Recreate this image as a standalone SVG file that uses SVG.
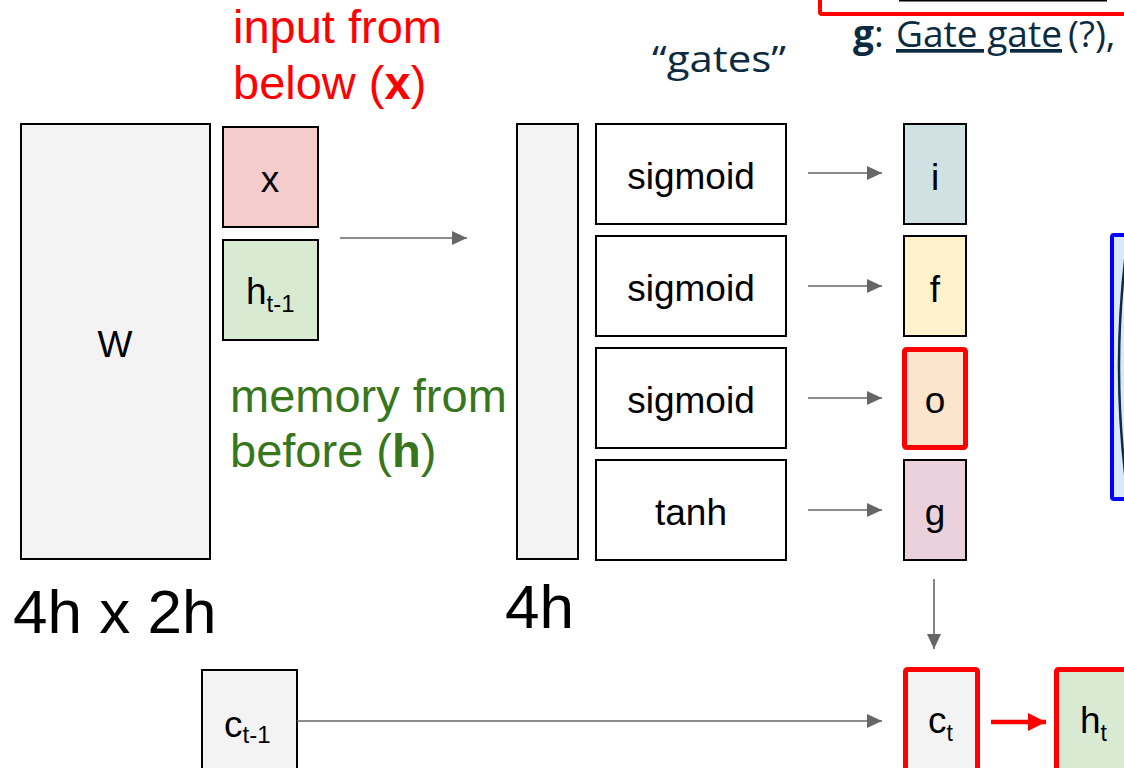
<svg xmlns="http://www.w3.org/2000/svg" width="1124" height="768" viewBox="0 0 1124 768">
<style>
.box{stroke:#000;stroke-width:2}
.hl{stroke:#ff0000;stroke-width:5}
.lbl{font-family:"Liberation Sans",Arial,sans-serif;font-size:37px;fill:#000}
.big{font-family:"Liberation Sans",Arial,sans-serif;font-size:62px;fill:#000}
.note{font-family:"Liberation Sans",Arial,sans-serif;font-size:47px}
.cal{font-family:"Open Sans","Noto Sans",sans-serif;fill:#0d2b40}
.con{stroke:#666;stroke-width:1.6;fill:none}
</style>
<defs>
<marker id="ah" markerUnits="userSpaceOnUse" markerWidth="15" markerHeight="14" refX="15" refY="7" orient="auto">
<path d="M0,0 L15,7 L0,14 z" fill="#666"/>
</marker>
<marker id="ahr" markerUnits="userSpaceOnUse" markerWidth="18" markerHeight="18" refX="18" refY="9" orient="auto">
<path d="M0,0 L18,9 L0,18 z" fill="#ff0000"/>
</marker>
</defs>
<rect width="1124" height="768" fill="#fff"/>

<!-- top cut-off elements -->
<g id="topbox">
<rect x="820" y="-20" width="330" height="34" fill="#fff" stroke="#ff0000" stroke-width="4" rx="2"/>
<rect x="899" y="-1" width="208" height="2.5" fill="#000"/>
</g>
<g id="gate-text">
<text x="853" y="47" class="cal" font-size="37"><tspan font-weight="bold">g</tspan>:</text>
<text x="896" y="47" class="cal" font-size="37" textLength="166" lengthAdjust="spacingAndGlyphs" text-decoration="underline">Gate gate</text>
<text x="1068" y="47" class="cal" font-size="37">(?),</text>
</g>
<g id="blue-box">
<rect x="1112" y="235" width="40" height="264" fill="#dae8fc" stroke="#0000ff" stroke-width="4" rx="2"/>
<path d="M1126,252 Q1112,366 1126,482" fill="none" stroke="#0d2b40" stroke-width="2.5"/>
</g>

<!-- labels -->
<text x="233" y="43" class="note" fill="#ff0000">input from</text>
<text x="233" y="99" class="note" fill="#ff0000">below (<tspan font-weight="bold">x</tspan>)</text>
<text x="230" y="412" class="note" fill="#38761d">memory from</text>
<text x="230" y="467" class="note" fill="#38761d">before (<tspan font-weight="bold">h</tspan>)</text>
<text x="652" y="72" class="cal" font-size="37" textLength="134" lengthAdjust="spacingAndGlyphs">“gates”</text>
<text x="13" y="633" class="big">4h x 2h</text>
<text x="505" y="628" class="big">4h</text>

<!-- nodes -->
<g id="W"><rect x="21" y="124" width="189" height="435" fill="#f3f3f3" class="box"/><text x="115" y="357" class="lbl" text-anchor="middle">W</text></g>
<g id="x"><rect x="223" y="127" width="95" height="100" fill="#f4cccc" class="box"/><text x="270" y="192" class="lbl" text-anchor="middle">x</text></g>
<g id="h_prev"><rect x="223" y="240" width="95" height="100" fill="#d9ead3" class="box"/><text x="246" y="304" class="lbl" font-size="34">h<tspan font-size="24" dy="8">t-1</tspan></text></g>
<g id="vec4h"><rect x="517" y="124" width="61" height="435" fill="#f3f3f3" class="box"/></g>
<g id="sig1"><rect x="596" y="124" width="190" height="100" fill="#fff" class="box"/><text x="691" y="189" class="lbl" text-anchor="middle">sigmoid</text></g>
<g id="sig2"><rect x="596" y="236" width="190" height="100" fill="#fff" class="box"/><text x="691" y="301" class="lbl" text-anchor="middle">sigmoid</text></g>
<g id="sig3"><rect x="596" y="348" width="190" height="100" fill="#fff" class="box"/><text x="691" y="413" class="lbl" text-anchor="middle">sigmoid</text></g>
<g id="tanh"><rect x="596" y="460" width="190" height="100" fill="#fff" class="box"/><text x="691" y="525" class="lbl" text-anchor="middle">tanh</text></g>
<g id="i"><rect x="904" y="124" width="62" height="100" fill="#d0e0e3" class="box"/><text x="935" y="190" class="lbl" text-anchor="middle">i</text></g>
<g id="f"><rect x="904" y="236" width="62" height="100" fill="#fff2cc" class="box"/><text x="935" y="302" class="lbl" text-anchor="middle">f</text></g>
<g id="o"><rect x="904.5" y="349.5" width="61" height="98" fill="#fce5cd" class="hl" rx="2"/><text x="935" y="413" class="lbl" text-anchor="middle">o</text></g>
<g id="g"><rect x="904" y="460" width="62" height="100" fill="#ead1dc" class="box"/><text x="935" y="525" class="lbl" text-anchor="middle">g</text></g>
<g id="c_prev"><rect x="202" y="670" width="95" height="110" fill="#f3f3f3" class="box"/><text x="224" y="737" class="lbl" font-size="35">c<tspan font-size="24" dy="6">t-1</tspan></text></g>
<g id="c_t"><rect x="905.5" y="669.5" width="72" height="110" fill="#f3f3f3" class="hl" rx="2"/><text x="928" y="733" class="lbl" font-size="35">c<tspan font-size="23" dy="8">t</tspan></text></g>
<g id="h_t"><rect x="1056.5" y="669.5" width="80" height="110" fill="#d9ead3" class="hl" rx="2"/><text x="1080" y="733" class="lbl" font-size="35">h<tspan font-size="23" dy="8">t</tspan></text></g>

<!-- connectors -->
<g id="connectors">
<line x1="340" y1="238" x2="467" y2="238" class="con" marker-end="url(#ah)"/>
<line x1="808" y1="173" x2="882" y2="173" class="con" marker-end="url(#ah)"/>
<line x1="808" y1="286" x2="882" y2="286" class="con" marker-end="url(#ah)"/>
<line x1="808" y1="398" x2="882" y2="398" class="con" marker-end="url(#ah)"/>
<line x1="808" y1="510" x2="882" y2="510" class="con" marker-end="url(#ah)"/>
<line x1="934" y1="579" x2="934" y2="649" class="con" marker-end="url(#ah)"/>
<line x1="297" y1="721" x2="882" y2="721" class="con" marker-end="url(#ah)"/>
<line x1="991" y1="722" x2="1046" y2="722" stroke="#ff0000" stroke-width="4.5" marker-end="url(#ahr)"/>
</g>
</svg>
